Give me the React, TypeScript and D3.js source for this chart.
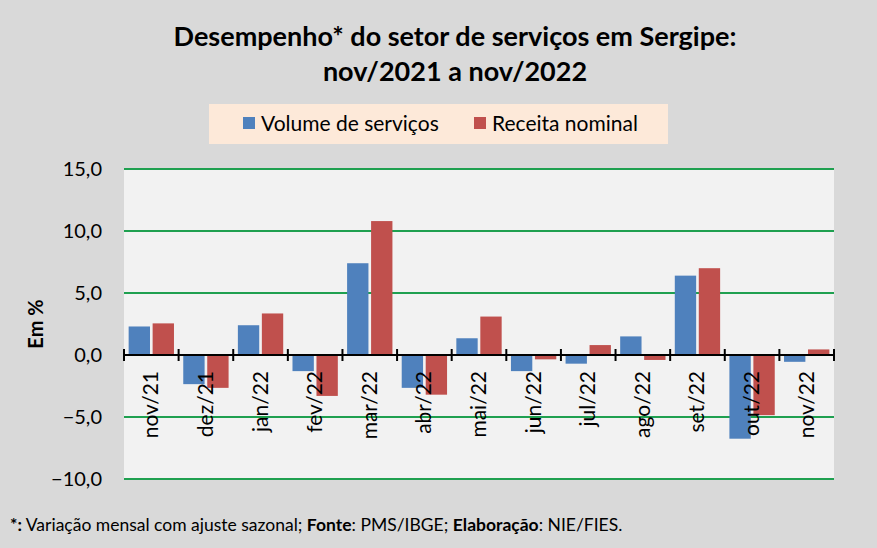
import { useEffect, useRef } from 'react'
import * as d3 from 'd3'

const months = ['nov/21', 'dez/21', 'jan/22', 'fev/22', 'mar/22', 'abr/22', 'mai/22', 'jun/22', 'jul/22', 'ago/22', 'set/22', 'out/22', 'nov/22']
const volume = [2.3, -2.35, 2.4, -1.3, 7.4, -2.65, 1.35, -1.3, -0.7, 1.5, 6.4, -6.75, -0.55]
const receita = [2.55, -2.65, 3.35, -3.3, 10.8, -3.2, 3.1, -0.35, 0.8, -0.4, 7.0, -4.85, 0.45]
const seriesNames = ['Volume de serviços', 'Receita nominal']
const seriesColors = ['#4f81bd', '#c0504d']
const yTicks = [-10, -5, 0, 5, 10, 15]

const W = 877
const H = 548
const FONT = 'Lato, "Open Sans", sans-serif'

export default function App() {
  const ref = useRef<HTMLDivElement>(null)

  useEffect(() => {
    if (!ref.current) return
    const container = ref.current
    container.innerHTML = ''

    const svg = d3.select(container)
      .append('svg')
      .attr('width', W)
      .attr('height', H)
      .style('display', 'block')
      .style('font-family', FONT)

    svg.append('rect').attr('width', W).attr('height', H).attr('fill', '#d9d9d9')

    // Title
    const title = svg.append('text')
      .attr('text-anchor', 'middle')
      .style('font-size', '27px')
      .style('font-weight', '700')
      .style('fill', '#000')
    title.append('tspan').attr('x', 455).attr('y', 46).text('Desempenho* do setor de serviços em Sergipe:')
    title.append('tspan').attr('x', 455).attr('y', 81).text('nov/2021 a nov/2022')

    // Legend
    svg.append('rect').attr('x', 209).attr('y', 104).attr('width', 459).attr('height', 40).attr('fill', '#fde9d9')
    const legendX = [243, 474]
    seriesNames.forEach((name, i) => {
      svg.append('rect').attr('x', legendX[i]).attr('y', 117).attr('width', 12).attr('height', 12).attr('fill', seriesColors[i])
      svg.append('text').attr('x', legendX[i] + 18).attr('y', 131)
        .style('font-size', '21px').style('fill', '#000').text(name)
    })

    // Plot
    const left = 124, right = 834, top = 169, bottom = 479
    const y = d3.scaleLinear().domain([-10, 15]).range([bottom, top])
    const x = d3.scaleBand<string>().domain(months).range([left, right]).paddingInner(0.17).paddingOuter(0.085)
    const xBoundary = d3.scaleBand<string>().domain(months).range([left, right]).padding(0)
    const xs = d3.scaleBand<number>().domain([0, 1]).range([0, x.bandwidth()]).paddingInner(0.11)

    svg.append('rect').attr('x', left).attr('y', top).attr('width', right - left).attr('height', bottom - top).attr('fill', '#f2f2f2')

    svg.append('g').selectAll('line').data(yTicks.filter(t => t !== 0)).enter().append('line')
      .attr('x1', left).attr('x2', right)
      .attr('y1', d => y(d)).attr('y2', d => y(d))
      .attr('stroke', '#1fa050').attr('stroke-width', 2)

    svg.append('g').selectAll('text').data(yTicks).enter().append('text')
      .attr('x', 102).attr('y', d => y(d) + 7)
      .attr('text-anchor', 'end')
      .style('font-size', '20px').style('fill', '#000')
      .text(d => d3.format('.1f')(d).replace('.', ','))

    svg.append('text')
      .attr('transform', `translate(43, ${(top + bottom) / 2}) rotate(-90)`)
      .attr('text-anchor', 'middle')
      .style('font-size', '20px').style('font-weight', '700').style('fill', '#000')
      .text('Em %')

    const series = [volume, receita]
    series.forEach((vals, si) => {
      svg.append('g').selectAll('rect').data(vals).enter().append('rect')
        .attr('x', (_, i) => (x(months[i]) ?? 0) + (xs(si) ?? 0))
        .attr('width', xs.bandwidth())
        .attr('y', d => y(Math.max(0, d)))
        .attr('height', d => Math.abs(y(d) - y(0)))
        .attr('fill', seriesColors[si])
    })

    // zero axis with ticks at category boundaries
    svg.append('line').attr('x1', left).attr('x2', right).attr('y1', y(0)).attr('y2', y(0))
      .attr('stroke', '#000').attr('stroke-width', 2)
    const boundaries = months.map(m => xBoundary(m) ?? 0).concat([right])
    svg.append('g').selectAll('line').data(boundaries).enter().append('line')
      .attr('x1', d => d).attr('x2', d => d)
      .attr('y1', y(0) - 6).attr('y2', y(0) + 6)
      .attr('stroke', '#000').attr('stroke-width', 2)

    svg.append('g').selectAll('text').data(months).enter().append('text')
      .attr('transform', m => `translate(${(xBoundary(m) ?? 0) + xBoundary.bandwidth() / 2 + 7}, ${y(0) + 16}) rotate(-90)`)
      .attr('text-anchor', 'end')
      .style('font-size', '21px').style('fill', '#000')
      .text(m => m)

    // Footnote
    const foot = svg.append('text').attr('x', 10).attr('y', 531).style('font-size', '17.5px').style('fill', '#000')
    foot.append('tspan').style('font-weight', '700').text('*:')
    foot.append('tspan').text(' Variação mensal com ajuste sazonal; ')
    foot.append('tspan').style('font-weight', '700').text('Fonte')
    foot.append('tspan').text(': PMS/IBGE; ')
    foot.append('tspan').style('font-weight', '700').text('Elaboração')
    foot.append('tspan').text(': NIE/FIES.')

    return () => { container.innerHTML = '' }
  }, [])

  return <div ref={ref} style={{ position: 'absolute', left: 0, top: 0, width: W, height: H }} />
}
